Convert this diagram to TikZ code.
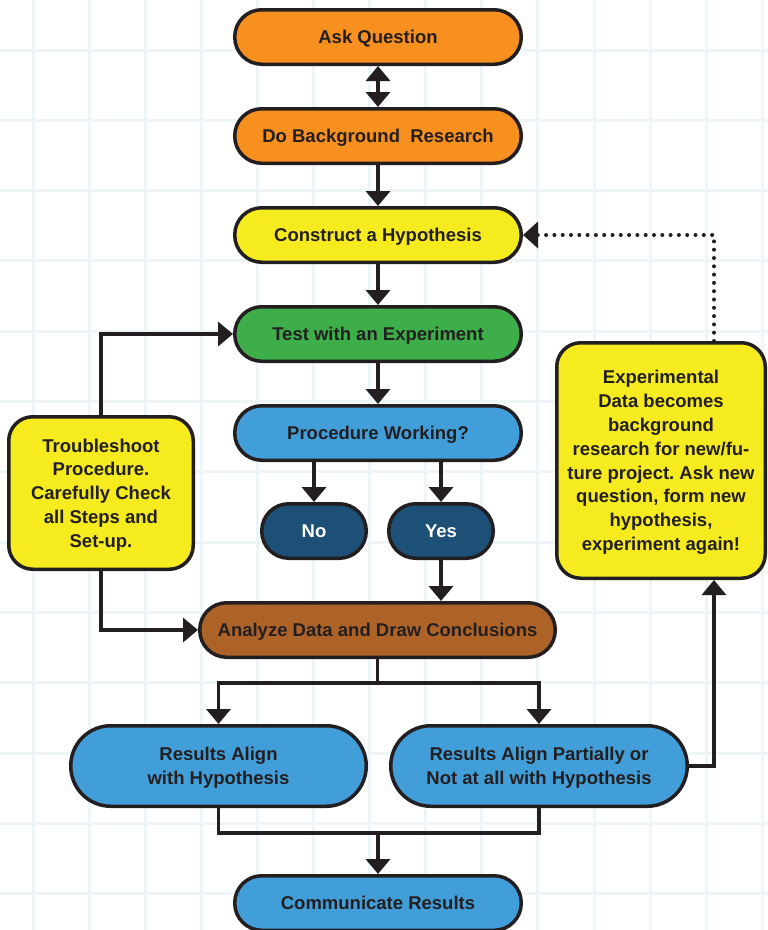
\documentclass[tikz,border=0pt]{standalone}
\usepackage{fontspec}
\setmainfont{Liberation Sans}
\usetikzlibrary{arrows.meta,positioning}
\definecolor{ink}{HTML}{231F20}
\definecolor{cOrange}{HTML}{F7901E}
\definecolor{cYellow}{HTML}{F5EB1F}
\definecolor{cGreen}{HTML}{3DAE4A}
\definecolor{cBlue}{HTML}{429ED8}
\definecolor{cDark}{HTML}{1D5076}
\definecolor{cBrown}{HTML}{AD6328}
\definecolor{gridc}{HTML}{EEF5F9}
\frenchspacing
\tikzset{
  pill/.style={draw=ink, line width=3.5pt, rounded corners=27pt, minimum width=286.5pt, minimum height=54.5pt, inner sep=0pt, text depth=0pt, text=ink, align=center, font=\fontsize{18.5}{23.8}\selectfont\bfseries},
  tallpill/.style={pill, rounded corners=40pt, minimum height=80.5pt, minimum width=296.5pt},
  note/.style={draw=ink, line width=3.5pt, rounded corners=24pt, inner sep=0pt, text depth=0pt, text=ink, align=center, fill=cYellow, font=\fontsize{18.5}{23.8}\selectfont\bfseries},
  conn/.style={draw=ink, line width=3.5pt},
  tipA/.tip={Triangle[width=24pt,length=15pt]},
  arr/.style={conn, -tipA},
  darr/.style={conn, tipA-tipA},
  dotarr/.style={draw=ink, line width=4pt, line cap=round, dash pattern=on 0pt off 8.3pt, -{Triangle[width=26pt,length=15pt,line cap=butt]}},
}
\begin{document}
\begin{tikzpicture}[x=1pt,y=-1pt]
\fill[white] (0,0) rectangle (768,930);
\useasboundingbox (0,0) rectangle (768,930);
% grid
\foreach \k in {0,...,13} { \draw[gridc, line width=3pt] ({33+56.1*\k},0) -- ({33+56.1*\k},930); }
\foreach \k in {0,...,12} { \draw[gridc, line width=3pt] (0,{50+70.3*\k}) -- (768,{50+70.3*\k}); }
% nodes
\node[pill, fill=cOrange] (ask) at (378,37) {Ask Question};
\node[pill, fill=cOrange] (bg) at (378,136) {Do Background~ Research};
\node[pill, fill=cYellow] (hyp) at (378,235) {Construct a Hypothesis};
\node[pill, fill=cGreen] (test) at (378,334) {Test with an Experiment};
\node[pill, fill=cBlue] (proc) at (378,433) {Procedure Working?};
\node[pill, fill=cDark, text=white, minimum width=104.5pt] (no) at (314,531) {No};
\node[pill, fill=cDark, text=white, minimum width=104.5pt] (yes) at (441,531) {Yes};
\node[pill, fill=cBrown, minimum width=355.5pt] (ana) at (377.5,630) {Analyze Data and Draw Conclusions};
\node[tallpill, fill=cBlue, minimum width=295.5pt] (ra) at (218.5,766) {Results Align\\with Hypothesis};
\node[tallpill, fill=cBlue] (rp) at (539,766) {Results Align Partially or\\Not at all with Hypothesis};
\node[pill, fill=cBlue] (comm) at (378,903) {Communicate Results};
\node[note, minimum width=184.5pt, minimum height=152.5pt] (trb) at (101,493) {Troubleshoot\\Procedure.\\Carefully Check\\all Steps and\\Set-up.};
\node[note, minimum width=208.5pt, minimum height=235.5pt] (exp) at (661,460.5) {Experimental\\Data becomes\\background\\research for new/fu-\\ture project. Ask new\\question, form new\\hypothesis,\\experiment again!};
% connectors
\draw[darr] (ask.south) -- (bg.north);
\draw[arr] (bg.south) -- (hyp.north);
\draw[arr] (hyp.south) -- (test.north);
\draw[arr] (test.south) -- (proc.north);
\draw[arr] (no |- proc.south) -- (no.north);
\draw[arr] (yes |- proc.south) -- (yes.north);
\draw[arr] (yes.south) -- (yes |- ana.north);
\draw[arr] (trb.north) |- (test.west);
\draw[arr] (trb.south) |- (ana.west);
\coordinate (s1) at (378,683);
\draw[conn] (ana.south) -- (ana.south |- s1);
\draw[arr] (s1) -| (ra.north);
\draw[arr] (s1) -| (rp.north);
\coordinate (s2) at (378,833);
\draw[conn] (ra.south) |- (s2) -| (rp.south);
\draw[arr] (s2) -- (comm.north);
\draw[arr] (rp.east) -| ([xshift=53pt]exp.south);
\draw[dotarr] ([xshift=53pt]exp.north) |- (hyp.east);
\end{tikzpicture}
\end{document}
